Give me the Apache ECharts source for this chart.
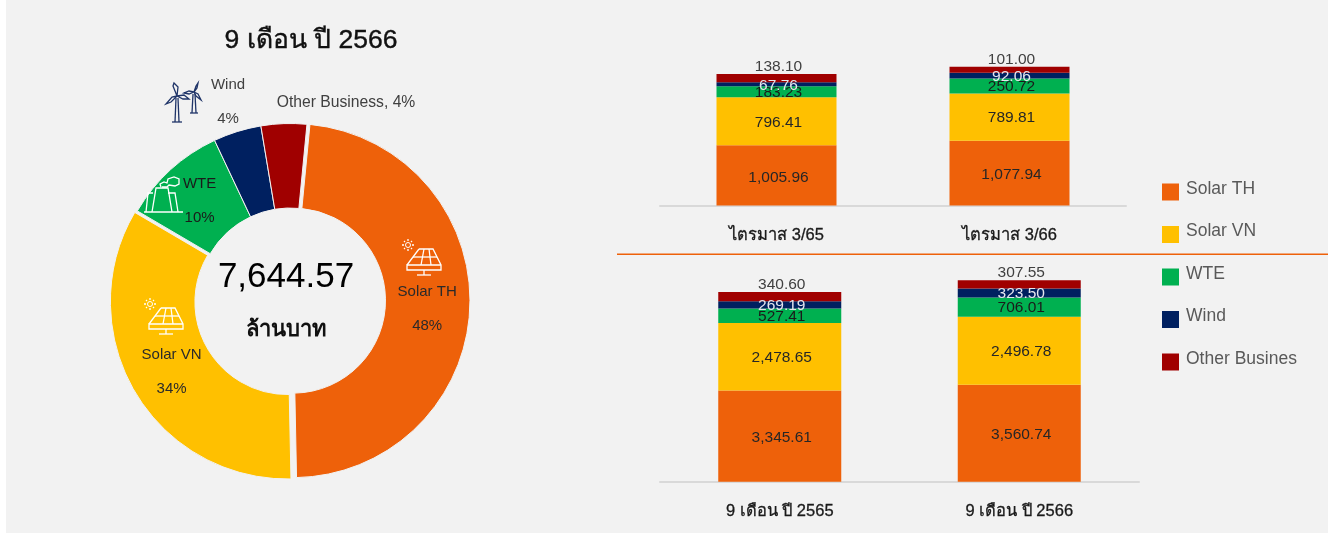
<!DOCTYPE html>
<html>
<head>
<meta charset="utf-8">
<title>chart</title>
<script src="https://cdn.jsdelivr.net/npm/echarts@6/dist/echarts.min.js"></script>
<style>
html, body { margin: 0; padding: 0; background: #fff; }
#main { width: 1332px; height: 535px; }
</style>
</head>
<body>
<div id="main"></div>
<script>
var legendNames = ['Solar TH', 'Solar VN', 'WTE', 'Wind', 'Other Busines'];
var seriesColors = ['#EE610A', '#FFC000', '#00B050', '#002060', '#A00000'];
var labelColors = ['#262626', '#262626', '#1a1a1a', '#e6e6ee', '#404040'];

// quarter chart
var quarterCats = ['ไตรมาส 3/65', 'ไตรมาส 3/66'];
var quarterSolarTH = [1005.96, 1077.94];
var quarterSolarVN = [796.41, 789.81];
var quarterWTE = [183.23, 250.72];
var quarterWind = [67.76, 92.06];
var quarterOther = [138.10, 101.00];

// 9 month chart
var nineMonthCats = ['9 เดือน ปี 2565', '9 เดือน ปี 2566'];
var nineSolarTH = [3345.61, 3560.74];
var nineSolarVN = [2478.65, 2496.78];
var nineWTE = [527.41, 706.01];
var nineWind = [269.19, 323.50];
var nineOther = [340.60, 307.55];

// donut
var pieNames = ['Solar TH', 'Solar VN', 'WTE', 'Wind', 'Other Business'];
var pieValues = [3560.74, 2496.78, 706.01, 323.50, 307.55];
var piePercents = ['48%', '34%', '10%', '4%', '4%'];
var pieTotal = '7,644.57';

var FONT = '"Liberation Sans", "Noto Sans", sans-serif';

function money(v) {
    return v.toLocaleString('en-US', { minimumFractionDigits: 2, maximumFractionDigits: 2 });
}

function stackSeries(groups, axisIndex, stackName) {
    var out = [];
    for (var i = 0; i < groups.length; i++) {
        out.push({
            name: legendNames[i],
            type: 'bar',
            stack: stackName,
            xAxisIndex: axisIndex,
            yAxisIndex: axisIndex,
            barWidth: axisIndex === 0 ? 120 : 123,
            data: groups[i],
            itemStyle: { color: seriesColors[i] },
            label: {
                show: true,
                position: i === 4 ? 'top' : 'inside',
                distance: 0,
                offset: i === 0 ? [2, 2] : [2, 1],
                color: labelColors[i],
                fontFamily: FONT,
                fontSize: 15.5,
                formatter: function(p) { return money(p.value); }
            }
        });
    }
    return out;
}

function pieLabel(i) {
    if (i === 3) {
        return { position: 'outside', formatter: 'Wind\n\n4%', color: '#404040', align: 'center' };
    }
    if (i === 4) {
        return { position: 'outside', formatter: 'Other Business, 4%', color: '#404040', fontSize: 15.7 };
    }
    return { position: 'inside', formatter: pieNames[i] + '\n\n' + piePercents[i], color: i === 2 ? '#1a1a1a' : '#2a2a2a' };
}

var pieData = [];
for (var i = 0; i < pieValues.length; i++) {
    pieData.push({
        name: pieNames[i],
        value: pieValues[i],
        selected: i < 2,
        label: pieLabel(i),
        labelLine: { show: false },
        itemStyle: { color: seriesColors[i], borderColor: '#f2f2f2', borderWidth: 1 },
        select: { itemStyle: { color: seriesColors[i], borderColor: '#f2f2f2', borderWidth: 1 } }
    });
}

// icons are just stroked polylines + a circle for the sun
function icon(lines, x, y, color, circles) {
    var children = lines.map(function(pts) {
        return { type: 'polyline', z: 20, silent: true, shape: { points: pts }, style: { fill: 'none', stroke: color, lineWidth: 1.3 } };
    });
    (circles || []).forEach(function(c) {
        children.push({ type: 'circle', z: 20, silent: true, shape: { cx: c[0], cy: c[1], r: c[2] }, style: { fill: 'none', stroke: color, lineWidth: 1 } });
    });
    return { type: 'group', x: x, y: y, children: children };
}

var panelLines = [
    [[12, 3], [26, 3], [34, 19], [34, 24], [0, 24], [0, 19], [34, 19]],
    [[12, 3], [0, 19]],
    [[17, 3], [14, 19]],
    [[22, 3], [24, 19]],
    [[6, 11], [30, 11]],
    [[17, 24], [17, 29]],
    [[10, 29], [24, 29]],
    [[1, -7], [1, -5]], [[1, 3], [1, 5]], [[-5, -1], [-3, -1]], [[5, -1], [7, -1]],
    [[-3, -5], [-2, -4]], [[5, -5], [4, -4]], [[-3, 3], [-2, 2]], [[5, 3], [4, 2]]
];
var panelSun = [[1, -1, 2.5]];

var turbineLines = [
    [[11, 14], [7, 4], [8, 1], [12, 5], [11, 14]],
    [[11, 14], [18, 13], [23, 17], [17, 17], [11, 14]],
    [[11, 14], [6, 15], [0, 22], [5, 20], [11, 14]],
    [[10, 16], [9, 40]], [[12, 16], [13, 40]], [[6, 40], [16, 40]],
    [[28, 10], [30, 4], [32, 1], [31, 6], [28, 10]],
    [[28, 10], [23, 9], [18, 11], [23, 12], [28, 10]],
    [[28, 10], [32, 12], [35, 18], [30, 14], [28, 10]],
    [[27, 12], [26, 31]], [[29, 12], [30, 31]], [[24, 31], [32, 31]]
];

var factoryLines = [
    [[0, 36], [39, 36]],
    [[2, 36], [4, 17], [9, 17]],
    [[8, 36], [12, 12], [24, 12], [28, 36]],
    [[24, 17], [31, 17], [34, 36]],
    [[17, 11], [16, 8], [20, 6], [23, 7], [24, 3], [30, 1], [35, 3], [35, 8], [31, 10], [25, 9], [23, 11], [18, 11]]
];

var option = {
    animation: false,
    backgroundColor: '#fff',
    textStyle: { fontFamily: FONT },
    legend: {
        orient: 'vertical',
        left: 1162,
        top: 180,
        itemWidth: 17,
        itemHeight: 17,
        itemGap: 22,
        padding: 0,
        data: legendNames,
        icon: 'rect',
        selectedMode: false,
        formatter: '{t|{name}}',
        textStyle: {
            rich: { t: { color: '#595959', fontSize: 17.5, fontFamily: FONT, padding: [0, 0, 6, 2] } }
        }
    },
    grid: [
        { left: 660, width: 466, top: 55.5, height: 150 },
        { left: 660, width: 479, top: 263.7, height: 218 }
    ],
    xAxis: [
        { gridIndex: 0, type: 'category', data: quarterCats },
        { gridIndex: 1, type: 'category', data: nineMonthCats }
    ].map(function(a) {
        a.axisTick = { show: false };
        a.axisLine = { lineStyle: { color: '#d9d9d9', width: 2 } };
        a.axisLabel = { color: '#1a1a1a', fontSize: 16.5, margin: 21, fontFamily: FONT, textBorderColor: '#1a1a1a', textBorderWidth: 0.3 };
        return a;
    }),
    yAxis: [
        { gridIndex: 0, type: 'value', min: 0, max: 2500, show: false },
        { gridIndex: 1, type: 'value', min: 0, max: 8000, show: false }
    ],
    series: [{
        type: 'pie',
        center: [290, 300.5],
        radius: [92.5, 177],
        startAngle: 84.5,
        clockwise: true,
        avoidLabelOverlap: false,
        selectedMode: 'multiple',
        selectedOffset: 3,
        label: { fontFamily: FONT, fontSize: 15, lineHeight: 17 },
        labelLayout: function(p) {
            if (p.dataIndex === 3) return { x: 228, y: 102, align: 'center', verticalAlign: 'middle' };
            if (p.dataIndex === 4) return { x: 346, y: 103, align: 'center', verticalAlign: 'middle' };
            if (p.dataIndex === 0) return { dx: -3.5, dy: 3 };
            if (p.dataIndex === 1) return { dx: 3 };
            if (p.dataIndex === 2) return { dx: 2.5, dy: 2 };
            return {};
        },
        data: pieData
    }].concat(
        stackSeries([quarterSolarTH, quarterSolarVN, quarterWTE, quarterWind, quarterOther], 0, 'q'),
        stackSeries([nineSolarTH, nineSolarVN, nineWTE, nineWind, nineOther], 1, 'n')
    ),
    graphic: [
        { type: 'rect', z: -10, silent: true, shape: { x: 6, y: 0, width: 1322, height: 533 }, style: { fill: '#f2f2f2' } },
        { type: 'rect', z: 1, silent: true, shape: { x: 617, y: 253.5, width: 711, height: 1.6 }, style: { fill: '#EE610A' } },
        { type: 'text', z: 20, x: 311, y: 41, style: { text: '9 เดือน ปี 2566', font: '26.5px ' + FONT, fill: '#111', stroke: '#111', lineWidth: 0.4, align: 'center', verticalAlign: 'middle' } },
        { type: 'text', z: 20, x: 286, y: 277, style: { text: pieTotal, font: '35px ' + FONT, fill: '#000', align: 'center', verticalAlign: 'middle' } },
        { type: 'text', z: 20, x: 286, y: 330, style: { text: 'ล้านบาท', font: 'bold 22px ' + FONT, fill: '#111', align: 'center', verticalAlign: 'middle' } },
        icon(panelLines, 407, 246, '#fff', panelSun),
        icon(panelLines, 149, 305, '#fff', panelSun),
        icon(turbineLines, 166, 82, '#1f3468'),
        icon(factoryLines, 144, 176, '#fff')
    ]
};

var chart = echarts.init(document.getElementById('main'));
chart.setOption(option);
</script>
</body>
</html>
